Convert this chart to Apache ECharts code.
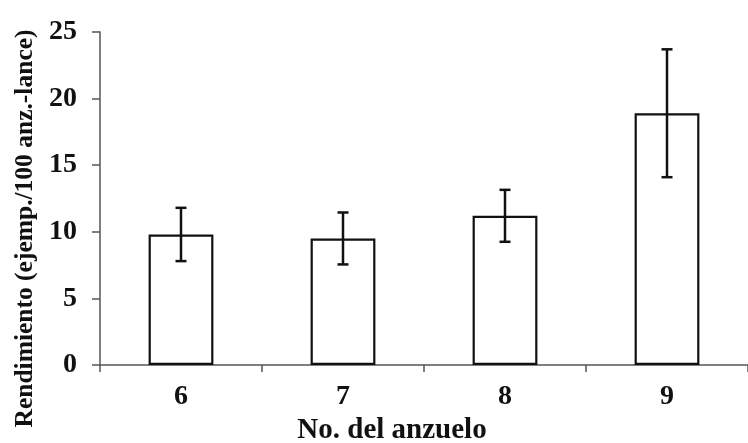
<!DOCTYPE html>
<html>
<head>
<meta charset="utf-8">
<script src="https://cdn.jsdelivr.net/npm/echarts@6/dist/echarts.min.js"></script>
<style>
  html, body { margin: 0; padding: 0; background: #fff; }
  #chart { width: 748px; height: 443px; }
</style>
</head>
<body>
<div id="chart"></div>
<script>
// Hook sizes (category) and mean catch rate with its error half-width
const hookSizes = ['6', '7', '8', '9'];
const meanYield = [9.8, 9.5, 11.2, 18.9];
const errorHalf = [2.0, 1.95, 1.95, 4.8];
const yTicks = [0, 5, 10, 15, 20, 25];

const serif = '"Liberation Serif", "DejaVu Serif", serif';

const errorData = hookSizes.map((c, i) => [i, meanYield[i] - errorHalf[i], meanYield[i] + errorHalf[i]]);

const chart = echarts.init(document.getElementById('chart'));
chart.setOption({
  animation: false,
  backgroundColor: '#fff',
  grid: { left: 100, right: 0, top: 32, bottom: 78, containLabel: false, outerBoundsMode: 'none' },
  xAxis: {
    type: 'category',
    data: hookSizes,
    name: 'No. del anzuelo',
    nameLocation: 'middle',
    nameGap: 51,
    nameTextStyle: { fontFamily: serif, fontWeight: 'bold', fontSize: 29, color: '#111', padding: [0, 64, 0, 0] },
    axisLine: { lineStyle: { color: '#555', width: 1.5 } },
    axisTick: { show: true, length: 7, lineStyle: { color: '#555', width: 1.5 } },
    axisLabel: { margin: 18, fontFamily: serif, fontWeight: 'bold', fontSize: 28, color: '#111' }
  },
  yAxis: {
    type: 'value',
    min: yTicks[0],
    max: yTicks[yTicks.length - 1],
    interval: yTicks[1] - yTicks[0],
    name: 'Rendimiento (ejemp./100 anz.-lance)',
    nameLocation: 'middle',
    nameGap: 57,
    nameTextStyle: { fontFamily: serif, fontWeight: 'bold', fontSize: 25.5, color: '#111', padding: [0, 60, 0, 0] },
    axisLine: { show: true, lineStyle: { color: '#555', width: 1.5 } },
    axisTick: { show: true, length: 8, lineStyle: { color: '#555', width: 1.5 } },
    splitLine: { show: false },
    axisLabel: { margin: 23, fontFamily: serif, fontWeight: 'bold', fontSize: 28, color: '#111' }
  },
  series: [
    {
      type: 'bar',
      data: meanYield,
      barWidth: '40%',
      itemStyle: { color: '#fff', borderColor: '#111', borderWidth: 2.2 },
      z: 2
    },
    {
      type: 'custom',
      data: errorData,
      z: 3,
      renderItem: function (params, api) {
        const x = api.value(0);
        const low = api.coord([x, api.value(1)]);
        const high = api.coord([x, api.value(2)]);
        const cap = 5.5;
        const style = { stroke: '#111', lineWidth: 2.5 };
        return {
          type: 'group',
          children: [
            { type: 'line', shape: { x1: high[0], y1: high[1], x2: low[0], y2: low[1] }, style: style },
            { type: 'line', shape: { x1: high[0] - cap, y1: high[1], x2: high[0] + cap, y2: high[1] }, style: style },
            { type: 'line', shape: { x1: low[0] - cap, y1: low[1], x2: low[0] + cap, y2: low[1] }, style: style }
          ]
        };
      }
    }
  ]
});
</script>
</body>
</html>
